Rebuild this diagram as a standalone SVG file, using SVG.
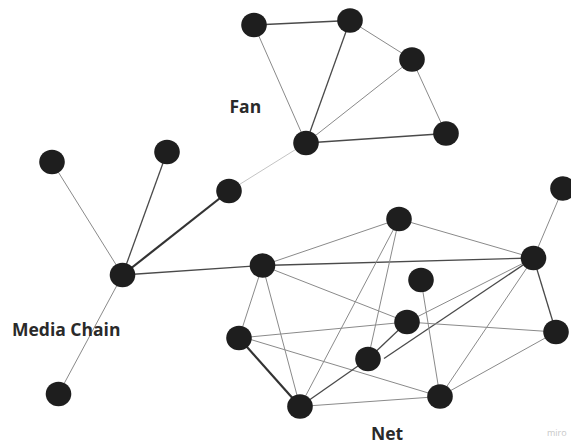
<svg xmlns="http://www.w3.org/2000/svg" width="571" height="444" viewBox="0 0 571 444">
<style>
.e{stroke:#8a8a8a;stroke-width:1;fill:none}
.l{stroke:#c4c4c4;stroke-width:1;fill:none}
.d{stroke:#4a4a4a;stroke-width:1.3;fill:none}
.t{stroke:#333;stroke-width:2.2;fill:none}
.n{fill:#1e1e1e}
.lbl{font-family:"Open Sans","Noto Sans",sans-serif;font-weight:bold;font-size:17.5px;fill:#2a2a2a}
.wm{font-family:"Open Sans","Noto Sans",sans-serif;font-size:9px;fill:#c8c8c8}
</style>
<rect width="571" height="444" fill="#fff"/>
<g id="connectors">
<line class="d" x1="254" y1="25" x2="350" y2="20.5"/>
<line class="e" x1="254" y1="25" x2="306" y2="143"/>
<line class="d" x1="350" y1="20.5" x2="306" y2="143"/>
<line class="e" x1="350" y1="20.5" x2="412" y2="59.5"/>
<line class="e" x1="412" y1="59.5" x2="306" y2="143"/>
<line class="e" x1="412" y1="59.5" x2="446" y2="133.5"/>
<line class="d" x1="306" y1="143" x2="446" y2="133.5"/>
<line class="l" x1="306" y1="143" x2="229" y2="191"/>
<line class="e" x1="52" y1="162" x2="122.5" y2="275"/>
<line class="d" x1="167" y1="152" x2="122.5" y2="275"/>
<line class="t" x1="229" y1="191" x2="122.5" y2="275"/>
<line class="e" x1="122.5" y1="275" x2="58.5" y2="394"/>
<line class="d" x1="122.5" y1="275" x2="262.5" y2="265.5"/>
<line class="e" x1="262.5" y1="265.5" x2="399" y2="219"/>
<line class="d" x1="262.5" y1="265.5" x2="533.5" y2="258"/>
<line class="e" x1="262.5" y1="265.5" x2="239" y2="338"/>
<line class="e" x1="262.5" y1="265.5" x2="300" y2="406.5"/>
<line class="e" x1="262.5" y1="265.5" x2="407" y2="322"/>
<line class="e" x1="399" y1="219" x2="533.5" y2="258"/>
<line class="e" x1="399" y1="219" x2="300" y2="406.5"/>
<line class="e" x1="399" y1="219" x2="368" y2="359"/>
<line class="e" x1="563" y1="188.5" x2="533.5" y2="258"/>
<line class="e" x1="533.5" y1="258" x2="407" y2="322"/>
<line class="d" x1="533.5" y1="258" x2="384" y2="358.5"/>
<line class="e" x1="533.5" y1="258" x2="440" y2="396.5"/>
<line class="d" x1="533.5" y1="258" x2="556" y2="332"/>
<line class="e" x1="239" y1="338" x2="407" y2="322"/>
<line class="e" x1="239" y1="336" x2="440" y2="396.5"/>
<line class="t" x1="239" y1="338" x2="300" y2="406.5"/>
<line class="d" x1="300" y1="406.5" x2="368" y2="359"/>
<line class="e" x1="300" y1="406.5" x2="440" y2="396.5"/>
<line class="d" x1="368" y1="359" x2="407" y2="322"/>
<line class="e" x1="421" y1="280" x2="440" y2="396.5"/>
<line class="e" x1="407" y1="322" x2="556" y2="332"/>
<line class="e" x1="556" y1="332" x2="440" y2="396.5"/>
</g>
<g id="fan-1"><ellipse class="n" cx="254" cy="25" rx="12.8" ry="12.2"/></g>
<g id="fan-2"><ellipse class="n" cx="350" cy="20.5" rx="12.8" ry="12.2"/></g>
<g id="fan-3"><ellipse class="n" cx="412" cy="59.5" rx="12.8" ry="12.2"/></g>
<g id="fan-4"><ellipse class="n" cx="446" cy="133.5" rx="12.8" ry="12.2"/></g>
<g id="fan-hub"><ellipse class="n" cx="306" cy="143" rx="12.8" ry="12.2"/></g>
<g id="media-1"><ellipse class="n" cx="52" cy="162" rx="12.8" ry="12.2"/></g>
<g id="media-2"><ellipse class="n" cx="167" cy="152" rx="12.8" ry="12.2"/></g>
<g id="media-3"><ellipse class="n" cx="229" cy="191" rx="12.8" ry="12.2"/></g>
<g id="media-hub"><ellipse class="n" cx="122.5" cy="275" rx="12.8" ry="12.2"/></g>
<g id="media-4"><ellipse class="n" cx="58.5" cy="394" rx="12.8" ry="12.2"/></g>
<g id="net-top"><ellipse class="n" cx="399" cy="219" rx="12.8" ry="12.2"/></g>
<g id="net-a"><ellipse class="n" cx="262.5" cy="265.5" rx="12.8" ry="12.2"/></g>
<g id="net-r"><ellipse class="n" cx="533.5" cy="258" rx="12.8" ry="12.2"/></g>
<g id="net-far"><ellipse class="n" cx="563" cy="188.5" rx="12.8" ry="12.2"/></g>
<g id="net-mid"><ellipse class="n" cx="421" cy="280" rx="12.8" ry="12.2"/></g>
<g id="net-c"><ellipse class="n" cx="407" cy="322" rx="12.8" ry="12.2"/></g>
<g id="net-l"><ellipse class="n" cx="239" cy="338" rx="12.8" ry="12.2"/></g>
<g id="net-d"><ellipse class="n" cx="368" cy="359" rx="12.8" ry="12.2"/></g>
<g id="net-rr"><ellipse class="n" cx="556" cy="332" rx="12.8" ry="12.2"/></g>
<g id="net-b"><ellipse class="n" cx="300" cy="406.5" rx="12.8" ry="12.2"/></g>
<g id="net-e"><ellipse class="n" cx="440" cy="396.5" rx="12.8" ry="12.2"/></g>
<g id="labels">
<text class="lbl" x="229.5" y="113">Fan</text>
<text class="lbl" x="12" y="335.5">Media Chain</text>
<text class="lbl" x="371" y="440">Net</text>
<text class="wm" x="547" y="436">miro</text>
</g>
</svg>
